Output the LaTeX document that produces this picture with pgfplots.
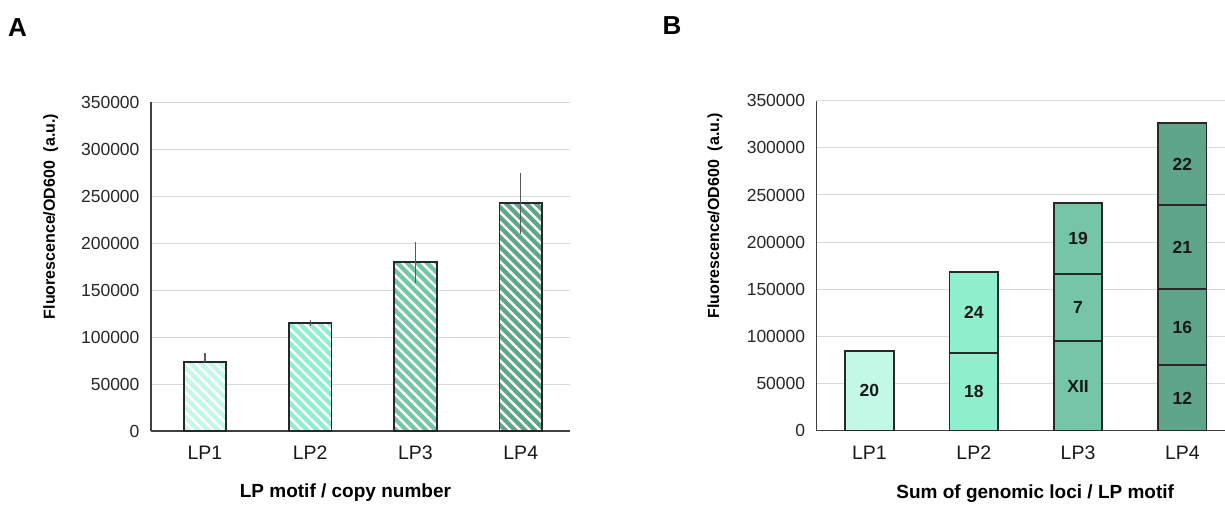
\documentclass[border=0pt]{standalone}
\usepackage{pgfplots}
\pgfplotsset{compat=1.18}
\usepackage{fontspec}
\setmainfont{Liberation Sans}
\usetikzlibrary{patterns.meta}
\definecolor{c1}{RGB}{195,247,230}
\definecolor{c2}{RGB}{143,239,204}
\definecolor{c3}{RGB}{117,198,166}
\definecolor{c4}{RGB}{95,165,138}
\definecolor{gridc}{RGB}{217,217,217}
\definecolor{axc}{RGB}{64,64,64}
\definecolor{barc}{RGB}{40,40,40}
\definecolor{errc}{RGB}{90,90,90}
\begin{document}
\begin{tikzpicture}
\path[use as bounding box] (0,0) rectangle (1225pt,514pt);
\pgfplotsset{
  common/.style={
    scale only axis,
    ymin=0, ymax=350000,
    ytick={0,50000,100000,150000,200000,250000,300000,350000},
    scaled y ticks=false,
    yticklabel style={/pgf/number format/fixed,/pgf/number format/1000 sep={},/pgf/number format/assume math mode=true, font=\fontsize{17.5}{19}\selectfont, color=black!85, xshift=-8pt},
    xtick={0,1,2,3}, xticklabels={LP1,LP2,LP3,LP4},
    xticklabel style={font=\fontsize{19.5}{21}\selectfont, color=black!90, yshift=-11pt, text height=14pt, text depth=0pt},
    major tick length=0pt,
    axis lines*=left,
    axis line style={draw=axc, line width=1.3pt, -},
    ymajorgrids, grid style={gridc, line width=1pt},
    ybar,
    ylabel={\textbf{Fluorescence/OD600\ \ (a.u.)}},
    ylabel style={font=\fontsize{16}{18}\selectfont, anchor=center},
    xlabel style={font=\fontsize{19}{21}\selectfont\bfseries, anchor=center},
  },
  barstyle/.style={bar shift=0pt, draw=barc, line width=1.7pt},
  hatch/.style={barstyle, preaction={fill=#1}, pattern={Lines[angle=-45,distance=7pt,line width=2.4pt]}, pattern color=white},
  plain/.style={barstyle, fill=#1},
  eb/.style={error bars/.cd, y dir=#1, y explicit, error mark=none, error bar style={draw=errc, line width=1.4pt}},
}
\begin{axis}[common,
  at={(151pt,83pt)}, anchor=south west,
  width=419pt, height=329pt,
  xmin=-0.513, xmax=3.468,
  bar width=42.5pt,
  ylabel style={at={(axis description cs:-0.239,0.652)}},
  xlabel={LP motif / copy number},
  xlabel style={at={(axis description cs:0.464,-0.188)}},
]
\addplot[hatch=c1, eb=plus] coordinates {(0,73400) +- (0,10000)};
\addplot[hatch=c2, eb=both] coordinates {(1,115200) +- (0,3200)};
\addplot[hatch=c3, eb=both] coordinates {(2,179500) +- (0,21800)};
\addplot[hatch=c4, eb=both] coordinates {(3,242200) +- (0,32500)};
\end{axis}
\begin{axis}[common,
  at={(816.7pt,83.3pt)}, anchor=south west,
  width=408.4pt, height=330pt,
  xmin=-0.506, xmax=3.41,
  bar width=48.5pt,
  ylabel style={at={(axis description cs:-0.249,0.652)}},
  xlabel={Sum of genomic loci / LP motif},
  xlabel style={at={(axis description cs:0.535,-0.192)}},
]
% cumulative tops of the stacked segments
\addplot[plain=c1] coordinates {(0,84500)};
\addplot[plain=c2] coordinates {(1,168000)};
\addplot[plain=c2] coordinates {(1,82700)};
\addplot[plain=c3] coordinates {(2,241200)};
\addplot[plain=c3] coordinates {(2,166500)};
\addplot[plain=c3] coordinates {(2,94800)};
\addplot[plain=c4] coordinates {(3,326400)};
\addplot[plain=c4] coordinates {(3,239400)};
\addplot[plain=c4] coordinates {(3,150000)};
\addplot[plain=c4] coordinates {(3,69400)};
\begin{scope}[every node/.style={font=\fontsize{17.5}{19}\selectfont\bfseries, text=black!90}]
\node at (axis cs:0,42250) {20};
\node at (axis cs:1,41350) {18};
\node at (axis cs:1,125350) {24};
\node at (axis cs:2,47400) {XII};
\node at (axis cs:2,130650) {7};
\node at (axis cs:2,203850) {19};
\node at (axis cs:3,34700) {12};
\node at (axis cs:3,109700) {16};
\node at (axis cs:3,194700) {21};
\node at (axis cs:3,282900) {22};
\end{scope}
\end{axis}
\node[font=\fontsize{26}{28}\selectfont\bfseries] at (17.5pt,486pt) {A};
\node[font=\fontsize{26}{28}\selectfont\bfseries] at (672pt,488pt) {B};
\end{tikzpicture}
\end{document}
